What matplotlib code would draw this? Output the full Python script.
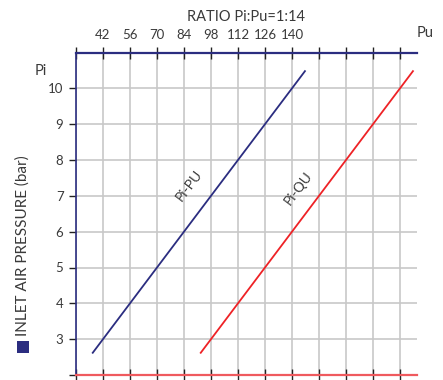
import matplotlib
matplotlib.use("Agg")
import matplotlib.pyplot as plt
from matplotlib.patches import Rectangle

# Data
pu_ticks = [28, 42, 56, 70, 84, 98, 112, 126, 140, 154, 168, 182, 196]
pu_labels = ["", "42", "56", "70", "84", "98", "112", "126", "140", "", "", "", ""]
pi_ticks = [2, 3, 4, 5, 6, 7, 8, 9, 10]
pi_labels = ["", "3", "4", "5", "6", "7", "8", "9", "10"]
pi_values = [2.6, 10.5]
pu_values = [36.4, 147.0]   # Pi-PU line
qu_values = [92.4, 203.0]   # Pi-QU line

BLUE = "#2b2d80"
RED = "#ee2226"
TXT = "#3a3a3a"
FONT = ["Lato", "DejaVu Sans"]

plt.rcParams['font.family'] = FONT
fig = plt.figure(figsize=(4.43, 3.80), dpi=100)
W, H = 443, 380
x0, x1 = 76, 416.7
y0, y1 = 375, 52.5
ax = fig.add_axes([x0 / W, 1 - y0 / H, (x1 - x0) / W, (y0 - y1) / H])
ax.set_xlim(28, 28 + 14 * (x1 - x0) / 27)
ax.set_ylim(2, 11)

ax.set_xticks(pu_ticks)
ax.set_yticks(pi_ticks)
ax.grid(True, color="#c8c8c8", linewidth=1.2)
ax.set_axisbelow(True)

ax.plot(pu_values, pi_values, color=BLUE, linewidth=1.3, solid_capstyle="butt")
ax.plot(qu_values, pi_values, color=RED, linewidth=1.3, solid_capstyle="butt")

ax.spines["right"].set_visible(False)
ax.spines["top"].set_color(BLUE)
ax.spines["top"].set_linewidth(1.6)
ax.spines["left"].set_color(BLUE)
ax.spines["left"].set_linewidth(1.2)
ax.spines["bottom"].set_color("#ef5a5e")
ax.spines["bottom"].set_linewidth(1.6)

ax.xaxis.tick_top()
ax.tick_params(axis="x", which="both", top=True, bottom=True, direction="inout",
               length=8, width=1.0, color="#222222", labelsize=9.5, labelcolor=TXT, pad=4)
ax.set_xticklabels(pu_labels)
ax.tick_params(axis="y", direction="out", length=5, width=1.0, color="#222222",
               labelsize=9.5, labelcolor=TXT, pad=4)
ax.set_yticklabels(pi_labels)

fig.text(246 / W, 1 - 17 / H, "RATIO Pi:Pu=1:14", ha="center", va="center",
         fontsize=10.5, color=TXT)
fig.text(425 / W, 1 - 33 / H, "Pu", ha="center", va="center", fontsize=10.5, color=TXT)
fig.text(41 / W, 1 - 71 / H, "Pi", ha="center", va="center", fontsize=10.5, color=TXT)
fig.text(23 / W, 1 - 246 / H, "INLET AIR PRESSURE (bar)", ha="center", va="center",
         rotation=90, fontsize=11, color=TXT)
fig.patches.append(Rectangle((17 / W, 1 - 353 / H), 12 / W, 12 / H,
                             transform=fig.transFigure, facecolor=BLUE, edgecolor="none"))

ax.text(86.5, 7.3, "Pi-PU", rotation=53, ha="center", va="center", fontsize=10,
        color=TXT, rotation_mode="anchor")
ax.text(143.5, 7.2, "Pi-QU", rotation=53, ha="center", va="center", fontsize=10,
        color=TXT, rotation_mode="anchor")

fig.savefig("out.png", dpi=100)
